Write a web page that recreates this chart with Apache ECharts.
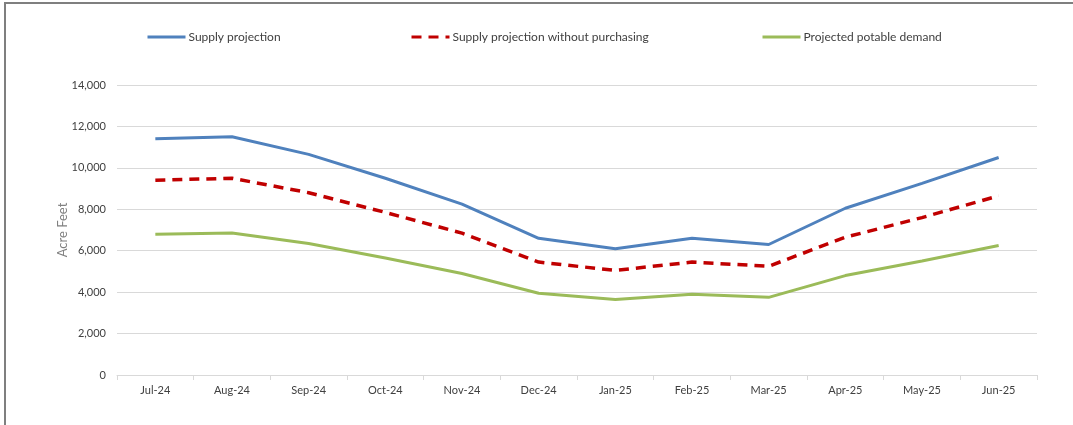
<!DOCTYPE html>
<html>
<head>
<meta charset="utf-8">
<script src="https://cdn.jsdelivr.net/npm/echarts@6/dist/echarts.min.js"></script>
<style>
html,body{margin:0;padding:0;background:#fff;}
#chart{position:absolute;left:0;top:0;width:1073px;height:425px;}
#frame{position:absolute;left:4px;top:2px;width:1069px;height:423px;border-left:2px solid #7f7f7f;border-top:2px solid #7f7f7f;box-sizing:border-box;pointer-events:none;}
</style>
</head>
<body>
<div id="chart"></div>
<div id="frame"></div>
<script>
const categories = ['Jul-24','Aug-24','Sep-24','Oct-24','Nov-24','Dec-24','Jan-25','Feb-25','Mar-25','Apr-25','May-25','Jun-25'];
const supplyProjection = [11400, 11500, 10650, 9500, 8250, 6600, 6100, 6600, 6300, 8050, 9250, 10500];
const supplyWithoutPurchasing = [9400, 9500, 8800, 7850, 6850, 5450, 5050, 5450, 5250, 6650, 7600, 8650];
const potableDemand = [6800, 6850, 6350, 5650, 4900, 3950, 3650, 3900, 3750, 4800, 5500, 6250];
const seriesNames = ['Supply projection', 'Supply projection without purchasing', 'Projected potable demand'];
const yMin = 0, yMax = 14000, yInterval = 2000;

const font = 'Lato, "Open Sans", sans-serif';
const chart = echarts.init(document.getElementById('chart'), null, {renderer: 'canvas'});
function legend(name, left) {
  return {
    data: [name], left: left, top: 26, itemWidth: 38, itemHeight: 14, itemGap: 0,
    itemStyle: {opacity: 0},
    lineStyle: {width: 3},
    textStyle: {fontFamily: font, fontSize: 12, color: '#404040', padding: [0,0,0,-2]},
    selectedMode: false
  };
}
chart.setOption({
  animation: false,
  backgroundColor: '#fff',
  legend: [legend(seriesNames[0], 141), legend(seriesNames[1], 405), legend(seriesNames[2], 756)],
  grid: {left: 117, right: 36, top: 85, bottom: 50},
  xAxis: {
    type: 'category', data: categories, boundaryGap: true,
    axisLine: {lineStyle: {color: '#d9d9d9', width: 1}},
    axisTick: {show: true, alignWithLabel: false, length: 5, lineStyle: {color: '#d9d9d9'}},
    axisLabel: {fontFamily: font, fontSize: 11, color: '#404040', margin: 10}
  },
  yAxis: {
    type: 'value', min: yMin, max: yMax, interval: yInterval,
    name: 'Acre Feet', nameLocation: 'middle', nameGap: 48, nameMoveOverlap: false,
    nameTextStyle: {fontFamily: font, fontSize: 13, color: '#808080'},
    axisLine: {show: false}, axisTick: {show: false},
    axisLabel: {fontFamily: font, fontSize: 11, color: '#404040', margin: 11,
      formatter: v => v.toLocaleString('en-US')},
    splitLine: {lineStyle: {color: '#d9d9d9', width: 1}}
  },
  series: [
    {name: seriesNames[0], type: 'line', data: supplyProjection, symbol: 'none',
      lineStyle: {color: '#4F81BD', width: 3}, itemStyle: {color: '#4F81BD'}},
    {name: seriesNames[1], type: 'line', data: supplyWithoutPurchasing, symbol: 'none',
      lineStyle: {color: '#C00000', width: 3.5, type: [10, 7]}, itemStyle: {color: '#C00000'}},
    {name: seriesNames[2], type: 'line', data: potableDemand, symbol: 'none',
      lineStyle: {color: '#9BBB59', width: 3}, itemStyle: {color: '#9BBB59'}}
  ]
});
</script>
</body>
</html>
